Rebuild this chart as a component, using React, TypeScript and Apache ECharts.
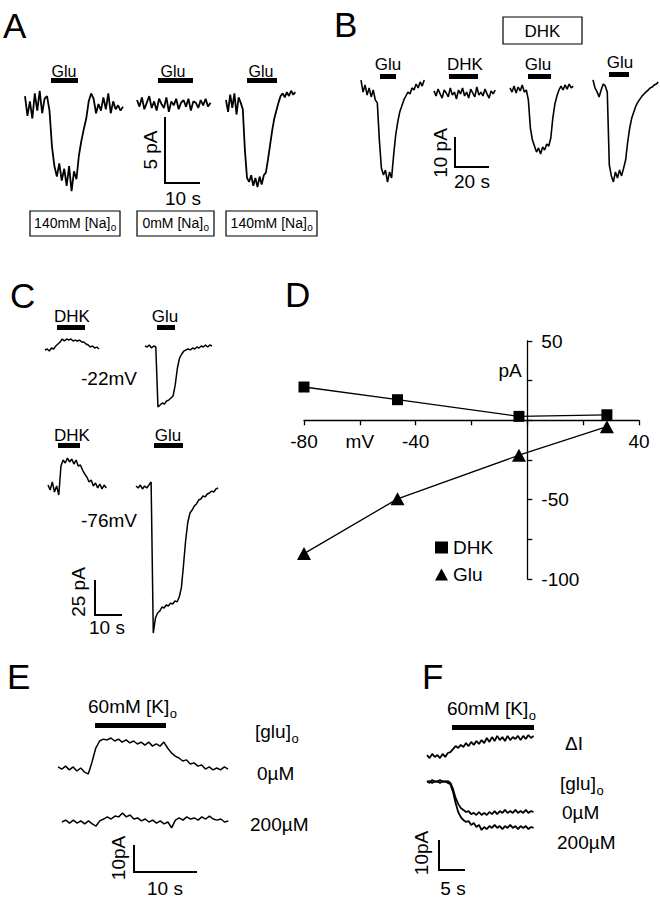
import React, { useEffect, useRef } from "react";
import * as echarts from "echarts";

const FONT = '"Liberation Sans", Arial, Helvetica, sans-serif';

// ---------- Panel A: glutamate responses, 140 / 0 / 140 mM [Na]o (pA, dt 0.7 / 0.6 s)
const A1_GLU_140NA = [0.6, -0.9, 0.2, -1.1, 0.8, -0.5, 1.0, -0.7, 0.4, 0.6, -0.5, -3.2, -4.7, -5.5, -4.5, -5.8, -4.9, -6.2, -4.7, -6.6, -5.1, -5.7, -3.9, -2.8, -1.9, -1.1, 0.2, 0.8, 0.4, -0.7, 0, -0.5, 0.5, -0.4, 0.8, -0.7, 0.2, -0.4, -0.1, -0.5, -0.2];
const A2_GLU_0NA = [0.3, -0.2, 0.5, -0.4, 0.1, 0.6, -0.3, 0.2, -0.5, 0.4, 0, -0.3, 0.5, -0.6, 0.2, -0.1, 0.4, -0.4, 0.1, 0.3, -0.2, 0.4, -0.5, 0.2, 0.1, -0.3, 0.3, -0.1, 0.4, -0.2, 0.1];
const A3_GLU_140NA = [0, -0.9, 0.4, -0.6, 0.5, -1.1, 0.2, -0.2, -0.7, -3.8, -5.9, -6.2, -5.7, -6.5, -5.9, -6.6, -5.8, -6.4, -5.7, -5.5, -4.5, -3.4, -2.3, -1.4, -0.8, -0.2, 0.3, 0.5, 0.2, 0.6, 0.3, 0.7, 0.4, 0.6];

// ---------- Panel B: Glu, DHK, Glu in DHK, Glu (pA, dt 1.2 s)
const B1_GLU = [3.3, -0.7, 1.7, -1.7, 0.7, -2.3, 0, -3.3, -4.3, -16.7, -26, -28.3, -26.7, -30.7, -27.3, -29.3, -21.7, -15, -10.7, -7.3, -5.3, -3.3, -2, -0.7, -1.3, 0.7, 0, 2, 0.7, 2.7, 1.3, 3.3];
const B2_DHK = [0.7, -1, 1.3, -0.3, -1.7, 1, 0, -1.3, 1.7, -0.7, 0.3, -2, 1, -0.3, 1.7, -1, 0.3, -1.7, 1.3, 0, -1.3, 2, -0.7, 0.3, -1, 1.3, -0.3, -1.7, 0.7, -0.3, 1];
const B3_GLU_IN_DHK = [0.7, -0.7, 1.3, -1, 1, -0.3, 1.7, -0.7, 0, -3.3, -12.7, -16.7, -18.7, -20.7, -19.3, -21.3, -19, -20, -18, -18.7, -16, -9.3, -4.7, -2, 0, 1.3, 0, 1.7, 0.3, 2, 0.7, 1.3];
const B4_GLU_WASH = [2.7, 0, -1.3, -3, -0.7, 1.3, 0.7, -1.3, -25.7, -29.3, -31.3, -28, -30, -27.3, -29.3, -26.7, -24, -18, -13.3, -10, -8, -6, -4.7, -3.7, -2.7, -2, -1.3, -0.7, 0, 0.3, 1, 1.3, 2];

// ---------- Panel C: DHK and Glu at -22 mV and -76 mV (pA, dt 0.8 s)
const C1_DHK_M22 = [0, 0.7, -0.7, 1.4, 0.7, 2.9, 4.3, 5.7, 7.9, 6.4, 7.9, 7.1, 7.9, 6.4, 7.1, 6.4, 7.1, 5.7, 5.7, 4.3, 3.6, 2.1, 2.9, 1.4, 2.1, 0.7];
const C2_GLU_M22 = [0.7, 0, 1.4, -0.7, 0.7, 0, -42.9, -41.4, -40, -40.7, -38.6, -37.9, -36.4, -35, -27.1, -15, -7.9, -5, -2.9, -2.1, -1.4, -2.1, -0.7, -1.4, 0, -0.7, 0.7, 0, 1.4, 0, 1.4, 0.7];
const C3_DHK_M76 = [1.4, -2.1, 3.6, -3.6, 0.7, -5.7, 15, 19.3, 17.1, 20.7, 17.9, 20, 16.4, 19.3, 15, 15.7, 12.1, 9.3, 7.1, 3.6, 5, 0.7, 2.9, -0.7, 2.1, -1.4, 1.4, -0.7];
const C4_GLU_M76 = [0.7, -0.7, 1.4, -1.4, 0.7, -0.7, 1.4, 3.6, -104.3, -93.6, -90, -88.6, -85.7, -86.4, -84.3, -85, -82.9, -83.6, -81.4, -82.1, -78.6, -72.1, -55.7, -37.9, -25, -18.6, -16.4, -13.6, -12.1, -9.3, -8.6, -6.4, -7.1, -5, -4.3, -2.9, -3.6, -1.4, -0.7];

// ---------- Panel D: I-V relation
const D_MEMBRANE_MV = [-80, -46.5, -3, 28.5];
const D_DHK_PA = [21, 13, 2.5, 3.5];
const D_GLU_PA = [-84, -49.5, -22, -4];
const D_X_RANGE = [-80, 40];
const D_Y_RANGE = [-100, 50];
const D_X_TICK_LABELS: Record<string, string> = { "-80": "-80", "-60": "mV", "-40": "-40", "40": "40" };
const D_Y_TICK_LABELS: Record<string, string> = { "50": "50", "-50": "-50", "-100": "-100" };

// ---------- Panel E: 60 mM [K]o at 0 and 200 uM [glu]o (pA, dt 0.6 s)
const E1_K_GLU0 = [0.4, -0.4, 0.7, -0.7, 0.4, -1.1, 0, -1.5, -2.2, 2.2, 7.4, 10, 10.7, 10.4, 11.1, 10, 10.7, 9.6, 10.4, 9.3, 10, 8.9, 9.6, 8.5, 9.6, 8.1, 8.9, 8.1, 9.6, 7.4, 5.6, 4.4, 3.7, 2.6, 3, 1.5, 1.9, 0.7, 1.1, -0.4, 0.4, -0.7, 0, -0.7, 0.4, -0.4];
const E2_K_GLU200 = [0, 0.7, -0.4, 0.7, -0.4, 0.4, -0.7, 0.4, -0.7, -1.5, 0.4, 1.1, 1.9, 1.1, 2.2, 1.9, 3.3, 1.9, 2.6, 1.1, 1.5, 0.4, 1.1, 0, 0.7, -0.4, 0.4, -0.7, 0, -2.2, 0.7, 1.5, 0.7, 1.9, 1.1, 1.5, 0.7, 1.9, 1.1, 2.2, 1.1, 0.7, 1.1, 0, 0.4];

// ---------- Panel F: delta I and currents at 0 / 200 uM [glu]o (pA, dt 0.5 s)
const F1_DELTA_I = [0.3, -0.7, 0.7, -0.3, 0.3, -0.7, 0.7, -0.3, 1, 1.3, 2.3, 3.3, 2.7, 3.7, 3, 4.3, 3.3, 4.7, 3.7, 5, 4, 5.3, 4.3, 6, 4.7, 6.3, 5, 6.7, 5.3, 6.3, 5, 6.7, 5.3, 6.3, 5.7, 6.7, 5.3, 6.7, 5.7, 7, 6, 6.7];
const F2_GLU0 = [0.3, -0.3, 0.7, 0, 0.3, -0.3, 0.3, 0, 0.3, -0.3, -2.3, -5.3, -7.3, -8.7, -9.3, -10, -9.7, -10.7, -10.3, -11, -10, -11, -10.3, -11, -10, -10.7, -9.7, -10.7, -9.7, -10.3, -9.3, -10.3, -9.7, -10.3, -9.3, -10.3, -9.7, -10.3, -9.3, -10.3, -9.7, -10];
const F3_GLU200 = [0, 0.3, -0.3, 0.3, 0, 0.7, 0, 0.3, -0.3, -0.7, -3.3, -7, -10, -11.7, -12.7, -13.3, -13, -14.3, -13.7, -15, -14.3, -16, -15, -15.7, -14.7, -15.3, -14.3, -15.3, -14.7, -15.7, -14.7, -15.3, -14.3, -15.3, -14.7, -15.7, -14.7, -15.3, -14.7, -15.7, -15, -15.3];

// ---------- layout (pixel placement and scales per panel)
const SCALE = {
  A: { pxS: 3.5, pxA: 13.2 },
  B: { pxS: 1.7, pxA: 3.0 },
  C: { pxS: 2.7, pxA: 1.4 },
  E: { pxS: 6.3, pxA: 2.7 },
  F: { pxS: 5.2, pxA: 3.0 },
};

const TRACES = [
  { data: A1_GLU_140NA, dt: 0.7, x0: 25, y0: 104, s: SCALE.A, lw: 1.8 },
  { data: A2_GLU_0NA, dt: 0.7, x0: 137, y0: 104, s: SCALE.A, lw: 1.8 },
  { data: A3_GLU_140NA, dt: 0.6, x0: 226, y0: 100, s: SCALE.A, lw: 1.8 },
  { data: B1_GLU, dt: 1.2, x0: 361, y0: 90, s: SCALE.B, lw: 1.6 },
  { data: B2_DHK, dt: 1.2, x0: 434, y0: 93, s: SCALE.B, lw: 1.6 },
  { data: B3_GLU_IN_DHK, dt: 1.2, x0: 510, y0: 90, s: SCALE.B, lw: 1.6 },
  { data: B4_GLU_WASH, dt: 1.2, x0: 593, y0: 88, s: SCALE.B, lw: 1.6 },
  { data: C1_DHK_M22, dt: 0.8, x0: 45, y0: 350, s: SCALE.C, lw: 1.5 },
  { data: C2_GLU_M22, dt: 0.8, x0: 145, y0: 347, s: SCALE.C, lw: 1.5 },
  { data: C3_DHK_M76, dt: 0.8, x0: 48, y0: 487, s: SCALE.C, lw: 1.5 },
  { data: C4_GLU_M76, dt: 0.8, x0: 136, y0: 487, s: SCALE.C, lw: 1.5 },
  { data: E1_K_GLU0, dt: 0.6, x0: 58, y0: 768, s: SCALE.E, lw: 1.5 },
  { data: E2_K_GLU200, dt: 0.6, x0: 62, y0: 822, s: SCALE.E, lw: 1.5 },
  { data: F1_DELTA_I, dt: 0.5, x0: 427, y0: 756, s: SCALE.F, lw: 1.8 },
  { data: F2_GLU0, dt: 0.5, x0: 427, y0: 782, s: SCALE.F, lw: 1.8 },
  { data: F3_GLU200, dt: 0.5, x0: 427, y0: 782, s: SCALE.F, lw: 1.8 },
];

// Panel D plot rectangle (pixels)
const D_RECT = { left: 304, top: 341, width: 335, height: 238 };

let measureCtx: CanvasRenderingContext2D | null = null;
const measure = (text: string, size: number) => {
  if (!measureCtx) measureCtx = document.createElement("canvas").getContext("2d");
  if (!measureCtx) return text.length * size * 0.55;
  measureCtx.font = `${size}px ${FONT}`;
  return measureCtx.measureText(text).width;
};

const txt = (text: string, x: number, y: number, size: number, align = "center", rotation = 0) => ({
  type: "text",
  x,
  y,
  rotation,
  silent: true,
  z: 10,
  style: { text, fontSize: size, fontFamily: FONT, fill: "#000", align, verticalAlign: "middle" },
});

// main text followed by a lowered, smaller subscript
const subTxt = (main: string, sub: string, x: number, y: number, size: number, align = "left") => {
  const subSize = Math.round(size * 0.68);
  const wMain = measure(main, size);
  const wSub = measure(sub, subSize);
  const left = align === "center" ? x - (wMain + wSub) / 2 : x;
  return [
    txt(main, left, y, size, "left"),
    txt(sub, left + wMain + 0.5, y + size * 0.37, subSize, "left"),
  ];
};

const bar = (x: number, y: number, w: number, h = 5) => ({
  type: "rect",
  silent: true,
  shape: { x, y, width: w, height: h },
  style: { fill: "#000" },
});

const box = (x: number, y: number, w: number, h: number) => ({
  type: "rect",
  silent: true,
  shape: { x, y, width: w, height: h },
  style: { fill: "none", stroke: "#000", lineWidth: 1.2 },
});

const scaleBar = (x: number, y: number, pA: number, sec: number, sc: { pxS: number; pxA: number }) => ({
  type: "polyline",
  silent: true,
  shape: {
    points: [
      [x, y],
      [x, y + pA * sc.pxA],
      [x + sec * sc.pxS, y + pA * sc.pxA],
    ],
  },
  style: { stroke: "#000", lineWidth: 2, fill: "none" },
});

function buildOption() {
  const grid: any[] = [];
  const xAxis: any[] = [];
  const yAxis: any[] = [];
  const series: any[] = [];

  TRACES.forEach((t, i) => {
    const n = t.data.length;
    const tmax = (n - 1) * t.dt;
    const vmax = Math.max(...t.data) + 1;
    const vmin = Math.min(...t.data) - 1;
    grid.push({
      left: t.x0,
      top: t.y0 - vmax * t.s.pxA,
      width: tmax * t.s.pxS,
      height: (vmax - vmin) * t.s.pxA,
      show: false,
      outerBoundsMode: "none",
    });
    xAxis.push({ type: "value", gridIndex: i, min: 0, max: tmax, show: false });
    yAxis.push({ type: "value", gridIndex: i, min: vmin, max: vmax, show: false });
    series.push({
      type: "line",
      xAxisIndex: i,
      yAxisIndex: i,
      data: t.data.map((v, k) => [k * t.dt, v]),
      symbol: "none",
      showSymbol: false,
      silent: true,
      clip: false,
      lineStyle: { color: "#000", width: t.lw },
    });
  });

  // ---------- Panel D: data grid + two axis grids whose edges sit on the zero lines
  const [x0, x1] = D_X_RANGE;
  const [y0, y1] = D_Y_RANGE;
  const pxPerMV = D_RECT.width / (x1 - x0);
  const pxPerPA = D_RECT.height / (y1 - y0);
  const zeroX = D_RECT.left + (0 - x0) * pxPerMV;
  const zeroY = D_RECT.top + (y1 - 0) * pxPerPA;

  const d = TRACES.length;
  const axisLineStyle = { color: "#000", width: 1.3 };
  const labelStyle = { fontSize: 19, fontFamily: FONT, color: "#000" };

  grid.push({ ...D_RECT, show: false, outerBoundsMode: "none" });
  xAxis.push({ type: "value", gridIndex: d, min: x0, max: x1, show: false });
  yAxis.push({ type: "value", gridIndex: d, min: y0, max: y1, show: false });

  grid.push({
    left: D_RECT.left,
    top: D_RECT.top,
    width: D_RECT.width,
    height: zeroY - D_RECT.top,
    show: false,
    outerBoundsMode: "none",
  });
  xAxis.push({
    type: "value",
    gridIndex: d + 1,
    position: "bottom",
    min: x0,
    max: x1,
    interval: 20,
    axisLine: { show: true, onZero: false, lineStyle: axisLineStyle },
    axisTick: { show: true, length: 5, lineStyle: axisLineStyle },
    axisLabel: {
      show: true,
      margin: 12,
      ...labelStyle,
      formatter: (v: number) => D_X_TICK_LABELS[String(v)] ?? "",
    },
    splitLine: { show: false },
  });
  yAxis.push({ type: "value", gridIndex: d + 1, min: 0, max: y1, show: false });

  grid.push({
    left: zeroX,
    top: D_RECT.top,
    width: D_RECT.left + D_RECT.width - zeroX,
    height: D_RECT.height,
    show: false,
    outerBoundsMode: "none",
  });
  xAxis.push({ type: "value", gridIndex: d + 2, min: 0, max: x1, show: false });
  yAxis.push({
    type: "value",
    gridIndex: d + 2,
    position: "left",
    min: y0,
    max: y1,
    interval: 25,
    axisLine: { show: true, onZero: false, lineStyle: axisLineStyle },
    axisTick: { show: true, inside: true, length: 5, lineStyle: axisLineStyle },
    axisLabel: {
      show: true,
      inside: true,
      margin: 14,
      ...labelStyle,
      formatter: (v: number) => D_Y_TICK_LABELS[String(v)] ?? "",
    },
    splitLine: { show: false },
  });

  series.push({
    name: "DHK",
    type: "line",
    xAxisIndex: d,
    yAxisIndex: d,
    data: D_MEMBRANE_MV.map((v, i) => [v, D_DHK_PA[i]]),
    symbol: "rect",
    symbolSize: 11,
    itemStyle: { color: "#000" },
    lineStyle: { color: "#000", width: 1.3 },
    silent: true,
    z: 5,
  });
  series.push({
    name: "Glu",
    type: "line",
    xAxisIndex: d,
    yAxisIndex: d,
    data: D_MEMBRANE_MV.map((v, i) => [v, D_GLU_PA[i]]),
    symbol: "triangle",
    symbolSize: [14, 13],
    itemStyle: { color: "#000" },
    lineStyle: { color: "#000", width: 1.3 },
    silent: true,
    z: 5,
  });

  const elements: any[] = [
    // panel letters
    txt("A", 3, 25, 35, "left"),
    txt("B", 334, 24, 35, "left"),
    txt("C", 10, 295, 35, "left"),
    txt("D", 285, 294, 35, "left"),
    txt("E", 7, 676, 35, "left"),
    txt("F", 422, 676, 35, "left"),

    // A
    txt("Glu", 64, 71, 16), txt("Glu", 173, 71, 16), txt("Glu", 261, 71, 16),
    bar(51, 78, 27), bar(158, 78, 35), bar(247, 78, 30),
    scaleBar(165, 117, 5, 10, SCALE.A),
    txt("5 pA", 150, 150, 19, "center", Math.PI / 2),
    txt("10 s", 183, 198, 19),
    box(30, 211, 90, 25), box(137, 211, 77, 25), box(226, 211, 91, 25),
    ...subTxt("140mM [Na]", "o", 75, 222.5, 14, "center"),
    ...subTxt("0mM [Na]", "o", 175.5, 222.5, 14, "center"),
    ...subTxt("140mM [Na]", "o", 271.5, 222.5, 14, "center"),

    // B
    box(503, 17, 79, 27),
    txt("DHK", 542.5, 31, 17),
    txt("Glu", 388, 64, 17), txt("DHK", 465, 64, 17), txt("Glu", 538, 64, 17), txt("Glu", 620, 62, 17),
    bar(380, 74, 16), bar(449, 74, 29), bar(528, 74, 23), bar(609, 72, 20),
    scaleBar(455, 137, 10, 20, SCALE.B),
    txt("10 pA", 440, 153, 19, "center", Math.PI / 2),
    txt("20 s", 472, 181, 19),

    // C
    txt("DHK", 72, 316, 17), txt("Glu", 165, 316, 17),
    bar(57, 325, 28), bar(157, 325, 18),
    txt("-22mV", 137, 378, 19, "right"),
    txt("DHK", 72, 435, 17), txt("Glu", 168, 435, 17),
    bar(58, 443, 22), bar(154, 443, 29),
    txt("-76mV", 137, 520, 19, "right"),
    scaleBar(95, 580, 25, 10, SCALE.C),
    txt("25 pA", 78, 592, 19, "center", Math.PI / 2),
    txt("10 s", 107, 627, 19),

    // D
    txt("pA", 510, 370, 19),

    // E
    ...subTxt("60mM [K]", "o", 88, 706, 19),
    bar(95, 723, 71),
    ...subTxt("[glu]", "o", 255, 731, 19),
    txt("0\u00b5M", 257, 773, 19, "left"),
    txt("200\u00b5M", 250, 824, 19, "left"),
    scaleBar(134, 845, 10, 10, SCALE.E),
    txt("10pA", 118, 858, 19, "center", Math.PI / 2),
    txt("10 s", 165, 888, 19),

    // F
    ...subTxt("60mM [K]", "o", 447, 708, 19),
    bar(452, 725, 82),
    txt("\u0394I", 565, 743, 19, "left"),
    ...subTxt("[glu]", "o", 560, 783, 19),
    txt("0\u00b5M", 562, 812, 19, "left"),
    txt("200\u00b5M", 557, 842, 19, "left"),
    scaleBar(439, 840, 10, 5, SCALE.F),
    txt("10pA", 421, 853, 19, "center", Math.PI / 2),
    txt("5 s", 453, 888, 19),
  ];

  return {
    animation: false,
    backgroundColor: "#fff",
    grid,
    xAxis,
    yAxis,
    series,
    legend: {
      data: [
        { name: "DHK", icon: "rect" },
        { name: "Glu", icon: "triangle" },
      ],
      orient: "vertical",
      left: 430,
      top: 533,
      itemWidth: 13,
      itemHeight: 12,
      itemGap: 8,
      selectedMode: false,
      textStyle: { fontSize: 19, color: "#000", fontFamily: FONT },
    },
    graphic: { elements },
  };
}

export default function App() {
  const ref = useRef<HTMLDivElement>(null);
  useEffect(() => {
    if (!ref.current) return;
    const chart = echarts.init(ref.current, undefined, { renderer: "svg" });
    chart.setOption(buildOption() as any);
    return () => chart.dispose();
  }, []);
  return (
    <div
      ref={ref}
      style={{ position: "absolute", left: 0, top: 0, width: 660, height: 900, background: "#fff" }}
    />
  );
}
